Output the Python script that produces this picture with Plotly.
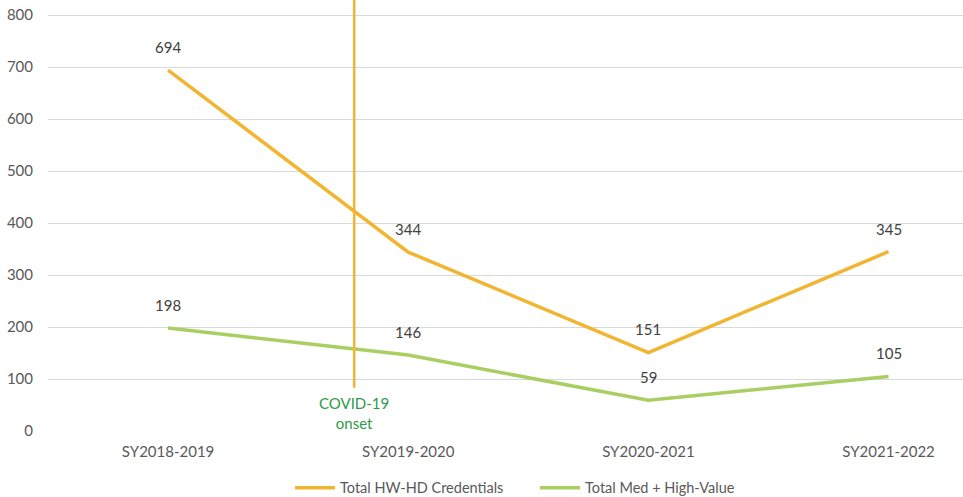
import plotly.graph_objects as go

categories = ["SY2018-2019", "SY2019-2020", "SY2020-2021", "SY2021-2022"]
hw_hd = [694, 344, 151, 345]
med_high = [198, 146, 59, 105]
series_names = ["Total HW-HD Credentials", "Total Med + High-Value"]
y_ticks = [0, 100, 200, 300, 400, 500, 600, 700, 800]

covid_pos = 0.775      # fractional category index of COVID-19 onset
covid_bottom = 83
covid_label = "COVID-19<br>onset"

orange = "#F2B531"
green = "#A9CF62"
text_col = "#595959"
label_col = "#404040"
font_family = "Lato, 'Open Sans', sans-serif"

x_idx = list(range(len(categories)))

fig = go.Figure()
fig.add_trace(go.Scatter(x=x_idx, y=hw_hd, mode="lines", name=series_names[0],
                         line=dict(color=orange, width=3.5)))
fig.add_trace(go.Scatter(x=x_idx, y=med_high, mode="lines", name=series_names[1],
                         line=dict(color=green, width=3.5)))

for series in (hw_hd, med_high):
    for xi, v in zip(x_idx, series):
        fig.add_annotation(x=xi, y=v, text=str(v), showarrow=False, yshift=23,
                           font=dict(size=15, color=label_col, family=font_family))

fig.add_shape(type="line", xref="x", yref="y", x0=covid_pos, x1=covid_pos,
              y0=covid_bottom, y1=900, line=dict(color=orange, width=2.5))
fig.add_annotation(x=covid_pos, y=covid_bottom, text=covid_label, showarrow=False,
                   yanchor="top", yshift=-4, align="center",
                   font=dict(size=15, color="#2E9A48", family=font_family))

fig.update_layout(
    width=963, height=497,
    margin=dict(l=48, r=0, t=0, b=66, autoexpand=False),
    plot_bgcolor="white", paper_bgcolor="white",
    font=dict(family=font_family, size=15, color=text_col),
    showlegend=True,
    legend=dict(orientation="h", x=0.2645, xanchor="left", y=-0.132, yanchor="middle",
                font=dict(size=14.5, color=text_col), itemwidth=40,
                entrywidth=190, entrywidthmode="pixels", tracegroupgap=0),
    xaxis=dict(tickmode="array", tickvals=x_idx, ticktext=categories,
               range=[-0.5, 3.31], showgrid=False, zeroline=False, automargin=False,
               showline=False, ticks="", ticklabelstandoff=10,
               tickfont=dict(size=15, color=text_col)),
    yaxis=dict(range=[0, 829], tickvals=y_ticks, showgrid=True, automargin=False,
               gridcolor="#D9D9D9", gridwidth=1, zeroline=False,
               showline=False, ticks="", ticklabelstandoff=14,
               tickfont=dict(size=15, color=text_col)),
)

fig.write_html("out.html", config={"displayModeBar": False},
               post_script="document.body.style.margin='0';document.body.style.overflow='hidden';")
